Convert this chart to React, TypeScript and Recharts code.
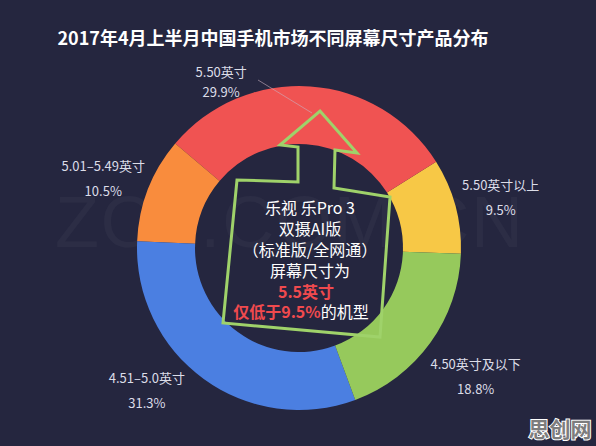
import { PieChart, Pie, Cell } from 'recharts'

const sizes = ['5.50英寸以上', '5.50英寸', '5.01–5.49英寸', '4.51–5.0英寸', '4.50英寸及以下']
const shares = [9.5, 29.9, 10.5, 31.3, 18.8]
const colors = ['#f7c846', '#f05352', '#f98c3d', '#4b7fe1', '#96c95c']

const noteLines = ['乐视 乐Pro 3', '双摄AI版', '（标准版/全网通）', '屏幕尺寸为']

const data = sizes.map((name, i) => ({ name, value: shares[i] }))

const W = 596
const H = 446
const CX = 299
const CY = 248
const font = '"Noto Sans CJK SC", "Noto Sans", sans-serif'
const RAD = Math.PI / 180

// labels are nudged off the slice middles in the original (red one sits left of the arrow)
const angleFix: Record<string, number> = { '5.50英寸': 29, '4.51–5.0英寸': -11, '5.01–5.49英寸': 1.5, '5.50英寸以上': -1 }
const radiusFix: Record<string, number> = { '5.50英寸': 184, '4.50英寸及以下': 218 }

const renderLabel = (props: any) => {
  const { cx, cy, midAngle, payload } = props
  const a = midAngle + (angleFix[payload.name] || 0)
  const r = radiusFix[payload.name] || 208
  const x = cx + r * Math.cos(-a * RAD)
  const y = cy + r * Math.sin(-a * RAD)
  const gap = payload.name === '5.50英寸' ? 20 : 25
  return (
    <g>
      <text x={x} y={y - gap / 2} textAnchor="middle" dominantBaseline="central" fill="#dcdde8" fontSize={13} fontFamily={font}>
        {payload.name}
      </text>
      <text x={x} y={y + gap / 2} textAnchor="middle" dominantBaseline="central" fill="#dcdde8" fontSize={13} fontFamily={font}>
        {payload.value}%
      </text>
    </g>
  )
}

export default function App() {
  return (
    <div style={{ position: 'absolute', left: 0, top: 0, width: W, height: H, background: '#25263f', overflow: 'hidden' }}>
      <svg width={W} height={H} style={{ position: 'absolute', left: 0, top: 0 }}>
        <text x={289} y={222} textAnchor="middle" dominantBaseline="central" fontSize={72} fontFamily="Liberation Sans, sans-serif"
          fill="#ffffff" fillOpacity={0.035} textLength={468} lengthAdjust="spacing">
          ZOL.COM.CN
        </text>
      </svg>
      <div style={{ position: 'absolute', left: 0, top: 0 }}>
        <PieChart width={W} height={H} margin={{ top: 0, right: 0, bottom: 0, left: 0 }}>
          <Pie
            data={data}
            dataKey="value"
            nameKey="name"
            cx={CX}
            cy={CY}
            innerRadius={104}
            outerRadius={162}
            startAngle={-2}
            endAngle={358}
            stroke="none"
            label={renderLabel}
            labelLine={false}
            isAnimationActive={false}
          >
            {data.map((d, i) => (
              <Cell key={d.name} fill={colors[i]} />
            ))}
          </Pie>
        </PieChart>
      </div>
      <svg width={W} height={H} style={{ position: 'absolute', left: 0, top: 0 }}>
        <text x={273} y={37} textAnchor="middle" dominantBaseline="central" fill="#ffffff" fontSize={18} fontWeight="bold" fontFamily={font}>
          2017年4月上半月中国手机市场不同屏幕尺寸产品分布
        </text>
        <line x1={258} y1={80} x2={312} y2={113} stroke="#c9b0c0" strokeOpacity={0.6} strokeWidth={1} />
        <polygon
          points="320,111 357,153 335,150 334,188 390,197 380,337 223,323 237,180 298,182 298,147 280,145"
          fill="none"
          stroke="#9fd26a"
          strokeWidth={3}
          strokeLinejoin="miter"
        />
        {noteLines.map((t, i) => (
          <text key={t} x={310} y={207 + i * 21} textAnchor="middle" dominantBaseline="central" fill="#ffffff" fontSize={16} fontFamily={font}>
            {t}
          </text>
        ))}
        <text x={306} y={291} textAnchor="middle" dominantBaseline="central" fill="#f04a4e" fontSize={16} fontWeight="bold" fontFamily={font}>
          5.5英寸
        </text>
        <text x={301} y={311} textAnchor="middle" dominantBaseline="central" fontSize={16} fontFamily={font}>
          <tspan fill="#f04a4e" fontWeight="bold">仅低于9.5%</tspan>
          <tspan fill="#ffffff">的机型</tspan>
        </text>
        <text x={560} y={428} textAnchor="middle" dominantBaseline="central" fill="#7d7d7d" stroke="#ffffff" strokeWidth={2}
          paintOrder="stroke" fontSize={21} fontWeight="bold" fontFamily={font}>
          思创网
        </text>
      </svg>
    </div>
  )
}
